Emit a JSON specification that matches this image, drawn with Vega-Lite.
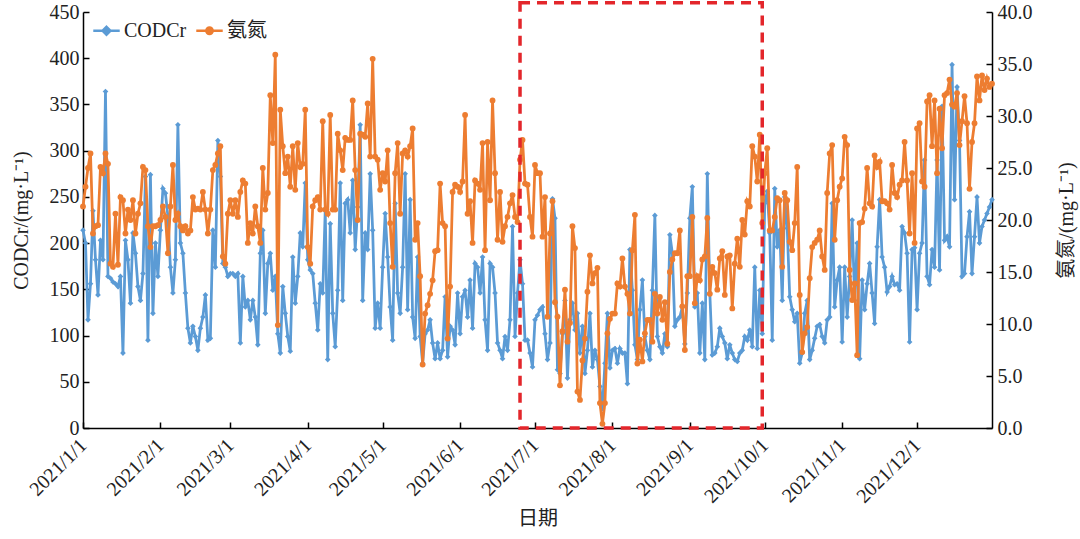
{
"$schema":"https://vega.github.io/schema/vega-lite/v6.json",
"width":909,"height":416,
"autosize":{"type":"none"},
"padding":{"left":83,"top":12,"right":88,"bottom":111},
"background":"white",
"config":{"view":{"stroke":null},"font":"Liberation Serif, Noto Sans CJK SC",
"axis":{"domainColor":"#000","domainWidth":1.5,"tickColor":"#000","tickWidth":1.5,"tickSize":-6,"grid":false,"labelFont":"Liberation Serif, Noto Sans CJK SC","labelFontSize":20,"labelColor":"#222","titleFont":"Liberation Serif, Noto Sans CJK SC","titleFontSize":20,"titleColor":"#222","titleFontWeight":"normal"}},
"datasets":{
"t":[
{"d":"2021-01-01","c":214,"n":21.3},{"d":"2021-01-02","c":200,"n":23.2},{"d":"2021-01-03","c":117,"n":25.0},{"d":"2021-01-04","c":156,"n":26.4},{"d":"2021-01-05","c":235,"n":18.7},{"d":"2021-01-06","c":182,"n":19.4},{"d":"2021-01-07","c":144,"n":19.5},{"d":"2021-01-08","c":203,"n":25.1},{"d":"2021-01-09","c":182,"n":24.5},{"d":"2021-01-10","c":364,"n":26.4},{"d":"2021-01-11","c":164,"n":25.4},{"d":"2021-01-12","c":162,"n":15.8},{"d":"2021-01-13","c":158,"n":15.5},{"d":"2021-01-14","c":156,"n":20.6},{"d":"2021-01-15","c":153,"n":15.7},{"d":"2021-01-16","c":164,"n":22.2},{"d":"2021-01-17","c":81,"n":21.9},{"d":"2021-01-18","c":203,"n":18.7},{"d":"2021-01-19","c":182,"n":21.0},{"d":"2021-01-20","c":135,"n":20.0},{"d":"2021-01-21","c":211,"n":21.9},{"d":"2021-01-22","c":189,"n":18.7},{"d":"2021-01-23","c":153,"n":20.6},{"d":"2021-01-24","c":138,"n":21.6},{"d":"2021-01-25","c":167,"n":25.1},{"d":"2021-01-26","c":272,"n":24.8},{"d":"2021-01-27","c":95,"n":19.4},{"d":"2021-01-28","c":274,"n":17.4},{"d":"2021-01-29","c":124,"n":19.4},{"d":"2021-01-30","c":200,"n":19.4},{"d":"2021-01-31","c":164,"n":19.5},
{"d":"2021-02-01","c":214,"n":20.0},{"d":"2021-02-02","c":259,"n":21.3},{"d":"2021-02-03","c":254,"n":20.3},{"d":"2021-02-04","c":229,"n":16.8},{"d":"2021-02-05","c":174,"n":21.3},{"d":"2021-02-06","c":146,"n":25.3},{"d":"2021-02-07","c":182,"n":20.0},{"d":"2021-02-08","c":328,"n":20.6},{"d":"2021-02-09","c":200,"n":19.4},{"d":"2021-02-10","c":189,"n":19.0},{"d":"2021-02-11","c":146,"n":19.4},{"d":"2021-02-12","c":108,"n":18.7},{"d":"2021-02-13","c":92,"n":19.0},{"d":"2021-02-14","c":110,"n":22.2},{"d":"2021-02-15","c":99,"n":21.0},{"d":"2021-02-16","c":84,"n":21.1},{"d":"2021-02-17","c":108,"n":21.0},{"d":"2021-02-18","c":120,"n":22.7},{"d":"2021-02-19","c":144,"n":21.0},{"d":"2021-02-20","c":95,"n":18.7},{"d":"2021-02-21","c":97,"n":21.0},{"d":"2021-02-22","c":214,"n":24.8},{"d":"2021-02-23","c":174,"n":25.3},{"d":"2021-02-24","c":311,"n":26.4},{"d":"2021-02-25","c":272,"n":27.1},{"d":"2021-02-26","c":178,"n":16.5},{"d":"2021-02-27","c":174,"n":15.8},{"d":"2021-02-28","c":164,"n":20.6},
{"d":"2021-03-01","c":167,"n":21.9},{"d":"2021-03-02","c":167,"n":20.6},{"d":"2021-03-03","c":164,"n":21.9},{"d":"2021-03-04","c":167,"n":20.3},{"d":"2021-03-05","c":92,"n":22.7},{"d":"2021-03-06","c":164,"n":23.8},{"d":"2021-03-07","c":131,"n":23.5},{"d":"2021-03-08","c":138,"n":17.8},{"d":"2021-03-09","c":117,"n":19.7},{"d":"2021-03-10","c":138,"n":18.7},{"d":"2021-03-11","c":120,"n":21.3},{"d":"2021-03-12","c":90,"n":19.4},{"d":"2021-03-13","c":189,"n":17.8},{"d":"2021-03-14","c":214,"n":25.0},{"d":"2021-03-15","c":124,"n":21.0},{"d":"2021-03-16","c":178,"n":22.6},{"d":"2021-03-17","c":189,"n":32.0},{"d":"2021-03-18","c":149,"n":27.4},{"d":"2021-03-19","c":164,"n":35.9},{"d":"2021-03-20","c":102,"n":9.9},{"d":"2021-03-21","c":81,"n":30.6},{"d":"2021-03-22","c":153,"n":27.1},{"d":"2021-03-23","c":124,"n":24.5},{"d":"2021-03-24","c":99,"n":26.1},{"d":"2021-03-25","c":83,"n":23.2},{"d":"2021-03-26","c":185,"n":27.1},{"d":"2021-03-27","c":135,"n":22.9},{"d":"2021-03-28","c":164,"n":27.4},{"d":"2021-03-29","c":211,"n":25.1},{"d":"2021-03-30","c":196,"n":25.4},{"d":"2021-03-31","c":265,"n":30.6},
{"d":"2021-04-01","c":182,"n":17.4},{"d":"2021-04-02","c":171,"n":15.8},{"d":"2021-04-03","c":167,"n":21.3},{"d":"2021-04-04","c":135,"n":21.9},{"d":"2021-04-05","c":106,"n":22.2},{"d":"2021-04-06","c":156,"n":21.0},{"d":"2021-04-07","c":146,"n":29.5},{"d":"2021-04-08","c":236,"n":21.0},{"d":"2021-04-09","c":74,"n":20.6},{"d":"2021-04-10","c":221,"n":30.1},{"d":"2021-04-11","c":124,"n":21.0},{"d":"2021-04-12","c":88,"n":21.0},{"d":"2021-04-13","c":149,"n":28.3},{"d":"2021-04-14","c":265,"n":26.7},{"d":"2021-04-15","c":138,"n":24.8},{"d":"2021-04-16","c":243,"n":27.9},{"d":"2021-04-17","c":247,"n":27.7},{"d":"2021-04-18","c":211,"n":27.7},{"d":"2021-04-19","c":268,"n":31.5},{"d":"2021-04-20","c":193,"n":24.8},{"d":"2021-04-21","c":239,"n":20.0},{"d":"2021-04-22","c":328,"n":28.3},{"d":"2021-04-23","c":138,"n":28.2},{"d":"2021-04-24","c":211,"n":28.0},{"d":"2021-04-25","c":193,"n":31.2},{"d":"2021-04-26","c":275,"n":26.1},{"d":"2021-04-27","c":214,"n":35.5},{"d":"2021-04-28","c":108,"n":26.1},{"d":"2021-04-29","c":135,"n":25.8},{"d":"2021-04-30","c":108,"n":22.9},
{"d":"2021-05-01","c":174,"n":24.5},{"d":"2021-05-02","c":232,"n":23.7},{"d":"2021-05-03","c":185,"n":26.7},{"d":"2021-05-04","c":131,"n":19.7},{"d":"2021-05-05","c":95,"n":15.5},{"d":"2021-05-06","c":243,"n":24.5},{"d":"2021-05-07","c":146,"n":27.4},{"d":"2021-05-08","c":124,"n":20.6},{"d":"2021-05-09","c":174,"n":26.4},{"d":"2021-05-10","c":275,"n":26.7},{"d":"2021-05-11","c":128,"n":26.1},{"d":"2021-05-12","c":247,"n":27.1},{"d":"2021-05-13","c":120,"n":28.8},{"d":"2021-05-14","c":97,"n":18.1},{"d":"2021-05-15","c":185,"n":19.7},{"d":"2021-05-16","c":99,"n":14.6},{"d":"2021-05-17","c":70,"n":6.1},{"d":"2021-05-18","c":102,"n":11.0},{"d":"2021-05-19","c":106,"n":11.8},{"d":"2021-05-20","c":117,"n":12.9},{"d":"2021-05-21","c":92,"n":14.2},{"d":"2021-05-22","c":75,"n":17.0},{"d":"2021-05-23","c":92,"n":17.1},{"d":"2021-05-24","c":75,"n":23.5},{"d":"2021-05-25","c":84,"n":19.7},{"d":"2021-05-26","c":142,"n":19.4},{"d":"2021-05-27","c":77,"n":8.6},{"d":"2021-05-28","c":110,"n":13.6},{"d":"2021-05-29","c":106,"n":22.7},{"d":"2021-05-30","c":90,"n":23.4},{"d":"2021-05-31","c":146,"n":23.2},
{"d":"2021-06-01","c":102,"n":22.7},{"d":"2021-06-02","c":142,"n":23.7},{"d":"2021-06-03","c":149,"n":30.1},{"d":"2021-06-04","c":120,"n":20.6},{"d":"2021-06-05","c":160,"n":21.8},{"d":"2021-06-06","c":108,"n":17.8},{"d":"2021-06-07","c":178,"n":23.8},{"d":"2021-06-08","c":174,"n":23.5},{"d":"2021-06-09","c":146,"n":22.9},{"d":"2021-06-10","c":185,"n":27.4},{"d":"2021-06-11","c":117,"n":17.1},{"d":"2021-06-12","c":84,"n":27.5},{"d":"2021-06-13","c":178,"n":21.9},{"d":"2021-06-14","c":174,"n":31.5},{"d":"2021-06-15","c":146,"n":24.5},{"d":"2021-06-16","c":92,"n":18.1},{"d":"2021-06-17","c":84,"n":22.7},{"d":"2021-06-18","c":75,"n":17.9},{"d":"2021-06-19","c":99,"n":19.4},{"d":"2021-06-20","c":84,"n":20.3},{"d":"2021-06-21","c":117,"n":21.6},{"d":"2021-06-22","c":218,"n":22.4},{"d":"2021-06-23","c":99,"n":20.3},{"d":"2021-06-24","c":146,"n":19.8},{"d":"2021-06-25","c":182,"n":25.8},{"d":"2021-06-26","c":156,"n":27.7},{"d":"2021-06-27","c":95,"n":23.5},{"d":"2021-06-28","c":95,"n":23.4},{"d":"2021-06-29","c":81,"n":20.3},{"d":"2021-06-30","c":66,"n":18.4},
{"d":"2021-07-01","c":117,"n":25.3},{"d":"2021-07-02","c":122,"n":24.5},{"d":"2021-07-03","c":128,"n":24.5},{"d":"2021-07-04","c":131,"n":18.4},{"d":"2021-07-05","c":102,"n":22.2},{"d":"2021-07-06","c":74,"n":10.7},{"d":"2021-07-07","c":92,"n":18.7},{"d":"2021-07-08","c":248,"n":21.8},{"d":"2021-07-09","c":227,"n":12.1},{"d":"2021-07-10","c":63,"n":10.7},{"d":"2021-07-11","c":59,"n":4.1},{"d":"2021-07-12","c":102,"n":9.3},{"d":"2021-07-13","c":138,"n":13.3},{"d":"2021-07-14","c":54,"n":8.3},{"d":"2021-07-15","c":117,"n":10.1},{"d":"2021-07-16","c":135,"n":19.4},{"d":"2021-07-17","c":106,"n":17.3},{"d":"2021-07-18","c":124,"n":3.5},{"d":"2021-07-19","c":81,"n":2.7},{"d":"2021-07-20","c":110,"n":6.5},{"d":"2021-07-21","c":59,"n":8.6},{"d":"2021-07-22","c":84,"n":13.1},{"d":"2021-07-23","c":124,"n":16.6},{"d":"2021-07-24","c":66,"n":13.9},{"d":"2021-07-25","c":84,"n":14.9},{"d":"2021-07-26","c":74,"n":15.4},{"d":"2021-07-27","c":45,"n":2.4},{"d":"2021-07-28","c":21,"n":0.4},{"d":"2021-07-29","c":70,"n":2.4},{"d":"2021-07-30","c":124,"n":9.1},{"d":"2021-07-31","c":65,"n":10.5},
{"d":"2021-08-01","c":84,"n":11.0},{"d":"2021-08-02","c":86,"n":11.0},{"d":"2021-08-03","c":70,"n":13.9},{"d":"2021-08-04","c":86,"n":13.6},{"d":"2021-08-05","c":81,"n":16.3},{"d":"2021-08-06","c":81,"n":13.6},{"d":"2021-08-07","c":48,"n":12.9},{"d":"2021-08-08","c":193,"n":11.0},{"d":"2021-08-09","c":149,"n":17.1},{"d":"2021-08-10","c":90,"n":20.5},{"d":"2021-08-11","c":74,"n":6.2},{"d":"2021-08-12","c":128,"n":8.5},{"d":"2021-08-13","c":160,"n":6.4},{"d":"2021-08-14","c":99,"n":9.1},{"d":"2021-08-15","c":84,"n":10.4},{"d":"2021-08-16","c":74,"n":10.4},{"d":"2021-08-17","c":149,"n":8.3},{"d":"2021-08-18","c":230,"n":12.9},{"d":"2021-08-19","c":99,"n":11.0},{"d":"2021-08-20","c":88,"n":12.6},{"d":"2021-08-21","c":81,"n":10.4},{"d":"2021-08-22","c":102,"n":12.1},{"d":"2021-08-23","c":88,"n":8.1},{"d":"2021-08-24","c":209,"n":15.0},{"d":"2021-08-25","c":189,"n":16.2},{"d":"2021-08-26","c":110,"n":16.8},{"d":"2021-08-27","c":117,"n":16.8},{"d":"2021-08-28","c":120,"n":19.0},{"d":"2021-08-29","c":131,"n":11.7},{"d":"2021-08-30","c":91,"n":7.5},{"d":"2021-08-31","c":146,"n":14.6},
{"d":"2021-09-01","c":227,"n":14.6},{"d":"2021-09-02","c":261,"n":20.3},{"d":"2021-09-03","c":131,"n":12.0},{"d":"2021-09-04","c":146,"n":14.6},{"d":"2021-09-05","c":81,"n":14.2},{"d":"2021-09-06","c":135,"n":16.2},{"d":"2021-09-07","c":74,"n":16.5},{"d":"2021-09-08","c":275,"n":20.2},{"d":"2021-09-09","c":146,"n":12.9},{"d":"2021-09-10","c":79,"n":15.5},{"d":"2021-09-11","c":81,"n":14.9},{"d":"2021-09-12","c":88,"n":13.3},{"d":"2021-09-13","c":108,"n":16.3},{"d":"2021-09-14","c":99,"n":17.0},{"d":"2021-09-15","c":92,"n":12.8},{"d":"2021-09-16","c":75,"n":16.5},{"d":"2021-09-17","c":90,"n":16.6},{"d":"2021-09-18","c":81,"n":11.5},{"d":"2021-09-19","c":74,"n":15.8},{"d":"2021-09-20","c":72,"n":18.2},{"d":"2021-09-21","c":81,"n":15.5},{"d":"2021-09-22","c":84,"n":20.0},{"d":"2021-09-23","c":99,"n":18.6},{"d":"2021-09-24","c":95,"n":21.8},{"d":"2021-09-25","c":106,"n":21.3},{"d":"2021-09-26","c":88,"n":27.1},{"d":"2021-09-27","c":174,"n":26.1},{"d":"2021-09-28","c":86,"n":23.7},{"d":"2021-09-29","c":149,"n":28.2},{"d":"2021-09-30","c":102,"n":19.7},
{"d":"2021-10-01","c":243,"n":24.5},{"d":"2021-10-02","c":256,"n":26.9},{"d":"2021-10-03","c":211,"n":19.0},{"d":"2021-10-04","c":95,"n":19.0},{"d":"2021-10-05","c":259,"n":20.3},{"d":"2021-10-06","c":196,"n":22.1},{"d":"2021-10-07","c":214,"n":21.9},{"d":"2021-10-08","c":138,"n":15.5},{"d":"2021-10-09","c":250,"n":22.6},{"d":"2021-10-10","c":216,"n":21.9},{"d":"2021-10-11","c":142,"n":17.9},{"d":"2021-10-12","c":128,"n":17.1},{"d":"2021-10-13","c":115,"n":19.7},{"d":"2021-10-14","c":124,"n":25.1},{"d":"2021-10-15","c":70,"n":12.8},{"d":"2021-10-16","c":81,"n":7.3},{"d":"2021-10-17","c":124,"n":9.1},{"d":"2021-10-18","c":138,"n":9.7},{"d":"2021-10-19","c":74,"n":14.4},{"d":"2021-10-20","c":84,"n":17.4},{"d":"2021-10-21","c":97,"n":17.8},{"d":"2021-10-22","c":110,"n":18.1},{"d":"2021-10-23","c":112,"n":19.0},{"d":"2021-10-24","c":99,"n":16.5},{"d":"2021-10-25","c":92,"n":15.2},{"d":"2021-10-26","c":117,"n":22.6},{"d":"2021-10-27","c":120,"n":26.4},{"d":"2021-10-28","c":243,"n":27.2},{"d":"2021-10-29","c":131,"n":18.1},{"d":"2021-10-30","c":160,"n":21.9},{"d":"2021-10-31","c":174,"n":23.2},
{"d":"2021-11-01","c":93,"n":24.0},{"d":"2021-11-02","c":174,"n":28.0},{"d":"2021-11-03","c":120,"n":27.2},{"d":"2021-11-04","c":164,"n":15.2},{"d":"2021-11-05","c":225,"n":12.3},{"d":"2021-11-06","c":138,"n":13.9},{"d":"2021-11-07","c":200,"n":7.0},{"d":"2021-11-08","c":75,"n":19.7},{"d":"2021-11-09","c":160,"n":19.8},{"d":"2021-11-10","c":128,"n":21.1},{"d":"2021-11-11","c":156,"n":25.0},{"d":"2021-11-12","c":178,"n":21.6},{"d":"2021-11-13","c":146,"n":21.3},{"d":"2021-11-14","c":113,"n":26.2},{"d":"2021-11-15","c":196,"n":25.1},{"d":"2021-11-16","c":247,"n":25.6},{"d":"2021-11-17","c":185,"n":21.8},{"d":"2021-11-18","c":174,"n":21.8},{"d":"2021-11-19","c":147,"n":21.6},{"d":"2021-11-20","c":153,"n":21.0},{"d":"2021-11-21","c":164,"n":25.3},{"d":"2021-11-22","c":155,"n":22.6},{"d":"2021-11-23","c":156,"n":22.2},{"d":"2021-11-24","c":149,"n":23.4},{"d":"2021-11-25","c":218,"n":23.8},{"d":"2021-11-26","c":211,"n":27.5},{"d":"2021-11-27","c":189,"n":23.8},{"d":"2021-11-28","c":93,"n":18.7},{"d":"2021-11-29","c":193,"n":24.5},{"d":"2021-11-30","c":195,"n":17.8},
{"d":"2021-12-01","c":128,"n":28.8},{"d":"2021-12-02","c":189,"n":29.3},{"d":"2021-12-03","c":200,"n":23.7},{"d":"2021-12-04","c":290,"n":23.2},{"d":"2021-12-05","c":164,"n":31.4},{"d":"2021-12-06","c":155,"n":32.0},{"d":"2021-12-07","c":193,"n":27.1},{"d":"2021-12-08","c":174,"n":31.5},{"d":"2021-12-09","c":290,"n":24.5},{"d":"2021-12-10","c":171,"n":30.7},{"d":"2021-12-11","c":348,"n":26.9},{"d":"2021-12-12","c":203,"n":32.0},{"d":"2021-12-13","c":207,"n":32.2},{"d":"2021-12-14","c":196,"n":33.5},{"d":"2021-12-15","c":393,"n":31.1},{"d":"2021-12-16","c":247,"n":30.9},{"d":"2021-12-17","c":369,"n":32.2},{"d":"2021-12-18","c":311,"n":27.2},{"d":"2021-12-19","c":164,"n":29.5},{"d":"2021-12-20","c":167,"n":31.9},{"d":"2021-12-21","c":207,"n":29.3},{"d":"2021-12-22","c":234,"n":23.0},{"d":"2021-12-23","c":167,"n":27.5},{"d":"2021-12-24","c":207,"n":29.3},{"d":"2021-12-25","c":250,"n":33.8},{"d":"2021-12-26","c":200,"n":31.5},{"d":"2021-12-27","c":218,"n":33.9},{"d":"2021-12-28","c":225,"n":32.5},{"d":"2021-12-29","c":232,"n":33.6},{"d":"2021-12-30","c":239,"n":32.8},{"d":"2021-12-31","c":247,"n":33.1}
],
"box":[{"s":"2021-06-25","e":"2021-09-30","y0":0,"y1":460}]
},
"layer":[
{"data":{"name":"t"},
 "encoding":{
  "x":{"field":"d","type":"temporal","title":"日期","scale":{"type":"utc","domain":[{"year":2021,"month":1,"date":1,"utc":true},{"year":2021,"month":12,"date":31,"utc":true}]},
   "axis":{"format":"%Y/%-m/%-d","values":[{"year":2021,"month":1,"date":1,"utc":true},{"year":2021,"month":2,"date":1,"utc":true},{"year":2021,"month":3,"date":1,"utc":true},{"year":2021,"month":4,"date":1,"utc":true},{"year":2021,"month":5,"date":1,"utc":true},{"year":2021,"month":6,"date":1,"utc":true},{"year":2021,"month":7,"date":1,"utc":true},{"year":2021,"month":8,"date":1,"utc":true},{"year":2021,"month":9,"date":1,"utc":true},{"year":2021,"month":10,"date":1,"utc":true},{"year":2021,"month":11,"date":1,"utc":true},{"year":2021,"month":12,"date":1,"utc":true}],
    "labelAngle":-45,"labelAlign":"right","labelBaseline":"middle","labelPadding":20,"titlePadding":2,"labelFlush":false,"labelOverlap":false}},
  "y":{"field":"c","type":"quantitative","scale":{"domain":[0,450],"nice":false},"axis":{"orient":"left","values":[0,50,100,150,200,250,300,350,400,450],"format":"d","title":"CODCr/(mg·L⁻¹)","titleAngle":-90,"labelPadding":10,"titlePadding":18}},
  "color":{"datum":"CODCr","type":"nominal","scale":{"domain":["CODCr","氨氮"],"range":["#5b9bd5","#ed7d31"]},
   "legend":{"orient":"none","legendX":9,"legendY":4,"direction":"horizontal","title":null,"symbolSize":700,"symbolStrokeWidth":2.5,"labelFont":"Liberation Serif, Noto Sans CJK SC","labelFontSize":20,"labelColor":"#222","labelOffset":3,"columnPadding":4,
    "encode":{"symbols":{"update":{"shape":{"signal":"datum.value === 'CODCr' ? 'M-1,0H1M0,-0.3L0.3,0L0,0.3L-0.3,0Z' : 'M-1,0H1M0.24,0A0.24,0.24,0,1,1,-0.24,0A0.24,0.24,0,1,1,0.24,0Z'"},"fill":{"scale":"color","field":"value"},"stroke":{"scale":"color","field":"value"},"strokeWidth":{"value":2.5},"opacity":{"value":1},"fillOpacity":{"value":1}}}}}}
 },
 "layer":[
  {"mark":{"type":"line","strokeWidth":2.75}},
  {"mark":{"type":"point","shape":"diamond","filled":true,"size":32,"opacity":1}}
 ]
},
{"data":{"name":"t"},
 "encoding":{
  "x":{"field":"d","type":"temporal","title":"日期"},
  "y":{"field":"n","type":"quantitative","scale":{"domain":[0,40],"nice":false},"axis":{"orient":"right","values":[0,5,10,15,20,25,30,35,40],"format":".1f","title":"氨氮/(mg·L⁻¹)","titleAngle":-90,"labelPadding":11,"titlePadding":44}},
  "color":{"datum":"氨氮","type":"nominal"}
 },
 "layer":[
  {"mark":{"type":"line","strokeWidth":2.75}},
  {"mark":{"type":"point","shape":"circle","filled":true,"size":34,"opacity":1}}
 ]
},
{"data":{"name":"box"},
 "mark":{"type":"rect","fillOpacity":0,"fill":"white","stroke":"#e3262b","strokeWidth":3.5,"strokeDash":[10,7]},
 "encoding":{
  "x":{"field":"s","type":"temporal","title":"日期"},
  "x2":{"field":"e"},
  "y":{"field":"y0","type":"quantitative","scale":{"domain":[0,450],"nice":false},"axis":null},
  "y2":{"field":"y1"}
 }
}
],
"resolve":{"scale":{"y":"independent"}}
}
